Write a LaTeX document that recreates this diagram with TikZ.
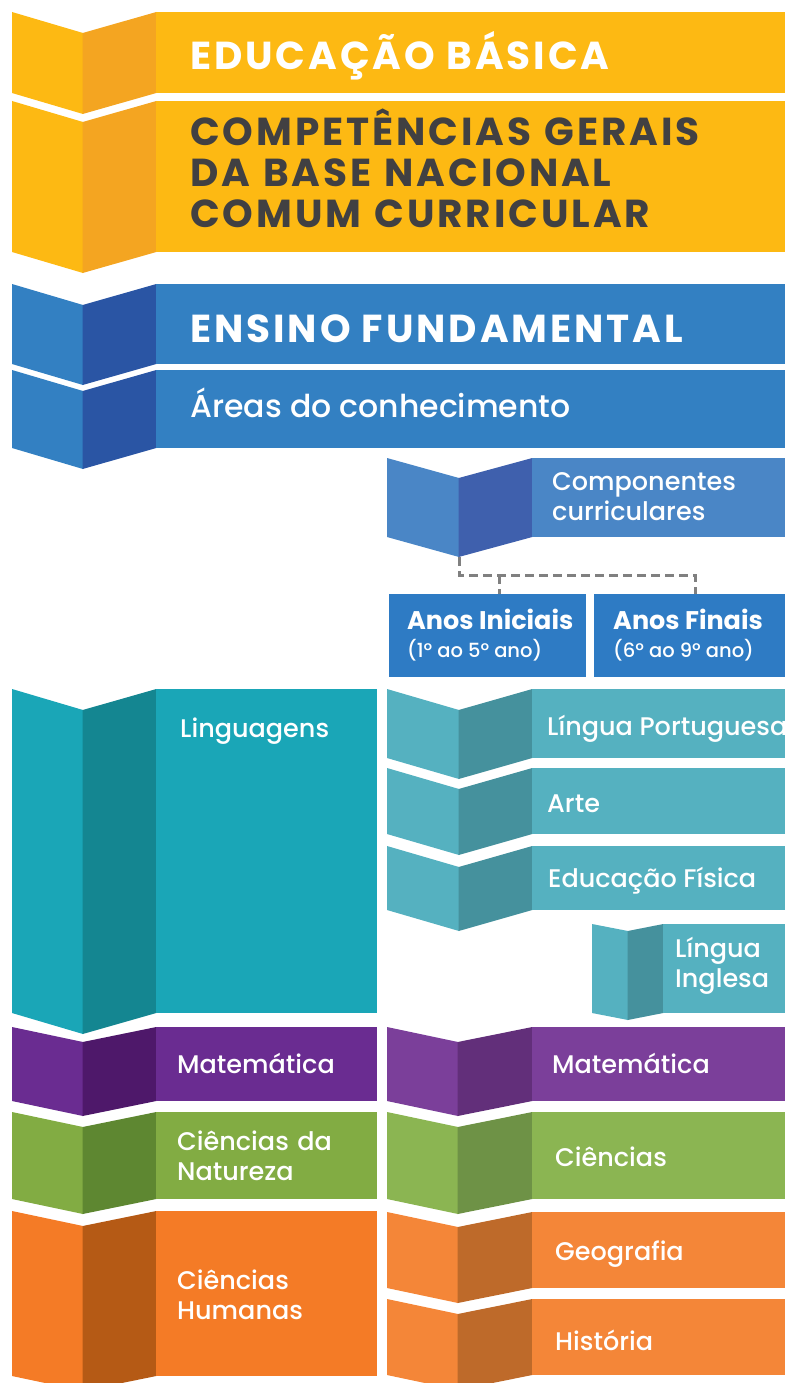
\documentclass[tikz,border=0pt]{standalone}
\usepackage{fontspec}
\setmainfont{Poppins}
\newfontfamily\medfont{Poppins Medium}
\newfontfamily\headfont{Poppins}[LetterSpace=7.5]
\definecolor{yelL}{HTML}{FDB913}
\definecolor{yelM}{HTML}{F4A521}
\definecolor{bluL}{HTML}{3380C2}
\definecolor{bluM}{HTML}{2A55A4}
\definecolor{cmpL}{HTML}{4A86C6}
\definecolor{cmpM}{HTML}{3F60AD}
\definecolor{anoF}{HTML}{2E7BC4}
\definecolor{tealL}{HTML}{1AA6B7}
\definecolor{tealM}{HTML}{148691}
\definecolor{ltL}{HTML}{55B1C0}
\definecolor{ltM}{HTML}{45919D}
\definecolor{purL}{HTML}{6A2C91}
\definecolor{purM}{HTML}{4E186A}
\definecolor{purbL}{HTML}{7B3F9A}
\definecolor{purbM}{HTML}{622F7A}
\definecolor{grnL}{HTML}{82AC43}
\definecolor{grnM}{HTML}{5E8731}
\definecolor{grnbL}{HTML}{8BB552}
\definecolor{grnbM}{HTML}{6E9246}
\definecolor{orL}{HTML}{F47B26}
\definecolor{orM}{HTML}{B55A15}
\definecolor{orbL}{HTML}{F48638}
\definecolor{orbM}{HTML}{BE6A2A}
\definecolor{darktxt}{HTML}{414042}
\definecolor{dashgray}{HTML}{808080}
% #1 left x, #2 fold x, #3 rect start x, #4 rect end x, #5 top y, #6 bottom y, #7 fold depth, #8 colour prefix
\newcommand\foldblock[8]{%
  \fill[#8L] (#1,#5) -- (#2,#5+#7) -- (#2,#6+#7) -- (#1,#6) -- cycle;
  \fill[#8M] (#2-0.3,#5+#7) -- (#3+0.3,#5) -- (#3+0.3,#6) -- (#2-0.3,#6+#7) -- cycle;
  \fill[#8L] (#3,#5) rectangle (#4,#6);}
\tikzset{
  head/.style={anchor=base west, inner sep=0pt, font=\headfont\bfseries\fontsize{39}{41}\selectfont},
  lbl/.style={anchor=base west, inner sep=0pt, text=white, font=\medfont\fontsize{25.5}{30}\selectfont},
  lblmulti/.style={lbl, text width=240pt, align=left},
  areas/.style={anchor=base west, inner sep=0pt, text=white, font=\medfont\fontsize{31.5}{32}\selectfont},
  anobox/.style={fill=anoF, inner sep=0pt, minimum height=83pt, anchor=north west},
  anotitle/.style={anchor=base west, inner sep=0pt, text=white, font=\bfseries\fontsize{25.5}{28}\selectfont},
  anosub/.style={anchor=base west, inner sep=0pt, text=white, font=\medfont\fontsize{19.5}{22}\selectfont},
  dashline/.style={draw=dashgray, line width=3pt, dash pattern=on 9pt off 5pt}
}
\begin{document}
\begin{tikzpicture}[x=1pt,y=-1pt]
\useasboundingbox (0,0) rectangle (785,1383);
\clip (0,0) rectangle (785,1383);
% blocks
\foldblock{12}{83}{156}{785}{12}{93}{21}{yel}
\foldblock{12}{83}{156}{785}{101}{252}{21}{yel}
\foldblock{12}{83}{156}{785}{284}{364}{21}{blu}
\foldblock{12}{83}{156}{785}{370}{448}{21}{blu}
\foldblock{387}{459}{532}{785}{458}{537}{20}{cmp}
\foldblock{12}{83}{156}{377}{689}{1013}{21}{teal}
\foldblock{387}{459}{532}{785}{689}{758}{21}{lt}
\foldblock{387}{459}{532}{785}{768}{834}{21}{lt}
\foldblock{387}{459}{532}{785}{846}{910}{21}{lt}
\foldblock{592}{628}{663}{785}{924}{1013}{7}{lt}
\foldblock{12}{83}{156}{377}{1027}{1101}{15}{pur}
\foldblock{387}{458}{532}{785}{1027}{1101}{15}{purb}
\foldblock{12}{83}{156}{377}{1112}{1199}{15}{grn}
\foldblock{387}{458}{532}{785}{1112}{1199}{15}{grnb}
\foldblock{12}{83}{156}{377}{1211}{1376}{15}{or}
\foldblock{387}{458}{532}{785}{1212}{1288}{15}{orb}
\foldblock{387}{458}{532}{785}{1299}{1375}{15}{orb}
% anos boxes
\node[anobox, minimum width=197pt] (ai) at (389,594) {};
\node[anobox, minimum width=191pt] (af) at (594,594) {};
% dashed connector
\coordinate (cfold) at (459,557);
\coordinate (jn) at (459,575);
\coordinate (aiT) at (499,594);
\coordinate (afT) at (695,594);
\draw[dashline] (cfold) -- (jn) -| (afT);
\draw[dashline] (jn -| aiT) -- (aiT);
% texts
\node[head, text=white] (edu) at (190,70) {EDUCAÇÃO BÁSICA};
\node[head, text=darktxt, text width=590pt, align=left] (bncc) at (190,146) {COMPETÊNCIAS GERAIS\\DA BASE NACIONAL\\COMUM CURRICULAR};
\node[head, text=white] (ensino) at (190,342) {ENSINO FUNDAMENTAL};
\node[areas] (areastxt) at (190,417) {Áreas do conhecimento};
\node[lblmulti] (comptxt) at (552,490) {Componentes\\curriculares};
\node[anotitle] (aititle) at (407,629) {Anos Iniciais};
\node[anosub] (aisub) at (407,657) {(1º ao 5º ano)};
\node[anotitle] (aftitle) at (613,629) {Anos Finais};
\node[anosub] (afsub) at (613,657) {(6º ao 9º ano)};
\node[lbl] (ling) at (180,737) {Linguagens};
\node[lbl] (lp) at (547,735) {Língua Portuguesa};
\node[lbl] (arte) at (547,812) {Arte};
\node[lbl] (edf) at (548,887) {Educação Física};
\node[lblmulti] (li) at (675,957) {Língua\\Inglesa};
\node[lbl] (matl) at (177,1073) {Matemática};
\node[lbl] (matr) at (552,1073) {Matemática};
\node[lblmulti] (cn) at (177,1150) {Ciências da\\Natureza};
\node[lbl] (ci) at (555,1166) {Ciências};
\node[lblmulti] (ch) at (177,1289) {Ciências\\Humanas};
\node[lbl] (geo) at (555,1260) {Geografia};
\node[lbl] (hist) at (555,1350) {História};
\end{tikzpicture}
\end{document}
